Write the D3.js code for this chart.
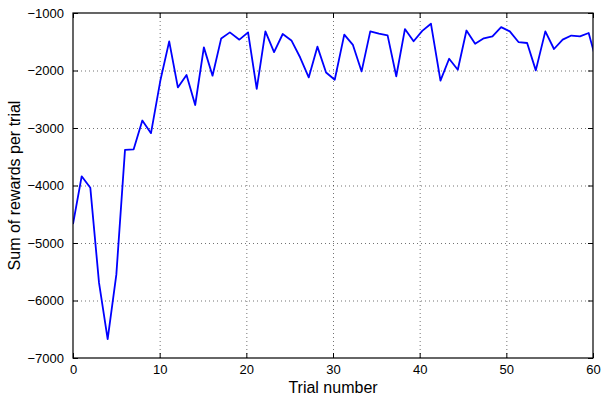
<!DOCTYPE html>
<html>
<head>
<meta charset="utf-8">
<script src="https://cdnjs.cloudflare.com/ajax/libs/d3/7.8.5/d3.min.js"></script>
<style>
  body { margin: 0; background: #fff; }
  svg { font-family: "Liberation Sans", Arial, sans-serif; }
  .grid line { stroke: #000; stroke-opacity: 0.55; stroke-dasharray: 1,3; }
  .grid path { display: none; }
  .axis path { display: none; }
  .axis line { stroke: #000; }
  .axis text { font-size: 13px; fill: #000; }
</style>
</head>
<body>
<svg width="602" height="398"></svg>
<script>
// trial positions as they sit on the x axis (the last one runs past 60 and is clipped)
var trials = [0, 1, 2, 3, 4, 5, 6, 7, 8, 9,
    10.1, 11.1, 12.1, 13.1, 14.1, 15.1, 16.1, 17.1, 18.1, 19.2,
    20.2, 21.2, 22.2, 23.2, 24.2, 25.2, 26.2, 27.2, 28.2, 29.2,
    30.2, 31.3, 32.3, 33.3, 34.3, 35.3, 36.3, 37.3, 38.3, 39.3,
    40.3, 41.3, 42.4, 43.4, 44.4, 45.4, 46.4, 47.4, 48.4, 49.4,
    50.4, 51.4, 52.4, 53.4, 54.5, 55.5, 56.5, 57.5, 58.5, 59.5, 60.5];

var rewards = [-4670, -3840, -4040, -5690, -6670, -5550, -3380, -3370, -2870, -3090,
    -2160, -1494, -2294, -2078, -2600, -1598, -2090, -1442, -1337, -1464,
    -1337, -2320, -1320, -1680, -1365, -1477, -1770, -2120, -1585, -2035,
    -2160, -1377, -1555, -2016, -1320, -1360, -1390, -2100, -1280, -1492,
    -1310, -1186, -2175, -1795, -1986, -1305, -1534, -1440, -1406, -1246,
    -1320, -1505, -1522, -1998, -1320, -1626, -1464, -1392, -1407, -1348, -1900];

var xTicks = [0, 10, 20, 30, 40, 50, 60];
var yTicks = [-7000, -6000, -5000, -4000, -3000, -2000, -1000];

var svg = d3.select("svg"),
    margin = {top: 13, right: 9, bottom: 40, left: 73},
    width = 602 - margin.left - margin.right,
    height = 398 - margin.top - margin.bottom,
    g = svg.append("g").attr("transform", "translate(" + margin.left + "," + margin.top + ")");

var x = d3.scaleLinear().domain([0, 60]).range([0, width]),
    y = d3.scaleLinear().domain([-7000, -1000]).range([height, 0]);

var minus = function(d) { return d < 0 ? "\u2212" + Math.abs(d) : d; };

// dotted grid
g.append("g")
    .attr("class", "grid")
    .attr("transform", "translate(0," + height + ")")
    .call(d3.axisBottom(x).tickValues(xTicks.slice(1, -1)).tickSize(-height).tickFormat(""));

g.append("g")
    .attr("class", "grid")
    .call(d3.axisLeft(y).tickValues(yTicks.slice(1, -1)).tickSize(-width).tickFormat(""));

// data line, clipped to the axes box
g.append("clipPath").attr("id", "box")
  .append("rect").attr("width", width).attr("height", height);

var line = d3.line()
    .x(function(d, i) { return x(trials[i]); })
    .y(function(d) { return y(d); });

g.append("path")
    .datum(rewards)
    .attr("clip-path", "url(#box)")
    .attr("fill", "none")
    .attr("stroke", "#0000ff")
    .attr("stroke-width", 1.8)
    .attr("stroke-linejoin", "round")
    .attr("d", line);

// axes with inward ticks on all four sides
g.append("g")
    .attr("class", "axis x")
    .attr("transform", "translate(0," + height + ")")
    .call(d3.axisBottom(x).tickValues(xTicks).tickSizeInner(-5).tickSizeOuter(0).tickPadding(7))
    .selectAll("text").attr("dy", "0.71em");

g.append("g")
    .attr("class", "axis")
    .call(d3.axisTop(x).tickValues(xTicks).tickSizeInner(-5).tickSizeOuter(0).tickFormat(""));

g.append("g")
    .attr("class", "axis y")
    .call(d3.axisLeft(y).tickValues(yTicks).tickSizeInner(-5).tickSizeOuter(0).tickPadding(9).tickFormat(minus));

g.append("g")
    .attr("class", "axis")
    .attr("transform", "translate(" + width + ",0)")
    .call(d3.axisRight(y).tickValues(yTicks).tickSizeInner(-5).tickSizeOuter(0).tickFormat(""));

g.append("rect")
    .attr("width", width)
    .attr("height", height)
    .attr("fill", "none")
    .attr("stroke", "#000")
    .attr("stroke-width", 1.2);

// axis titles
svg.append("text")
    .attr("x", margin.left + width / 2)
    .attr("y", 393)
    .attr("text-anchor", "middle")
    .style("font-size", "16px")
    .text("Trial number");

svg.append("text")
    .attr("transform", "translate(20," + (margin.top + height / 2) + ") rotate(-90)")
    .attr("text-anchor", "middle")
    .style("font-size", "16px")
    .text("Sum of rewards per trial");
</script>
</body>
</html>
